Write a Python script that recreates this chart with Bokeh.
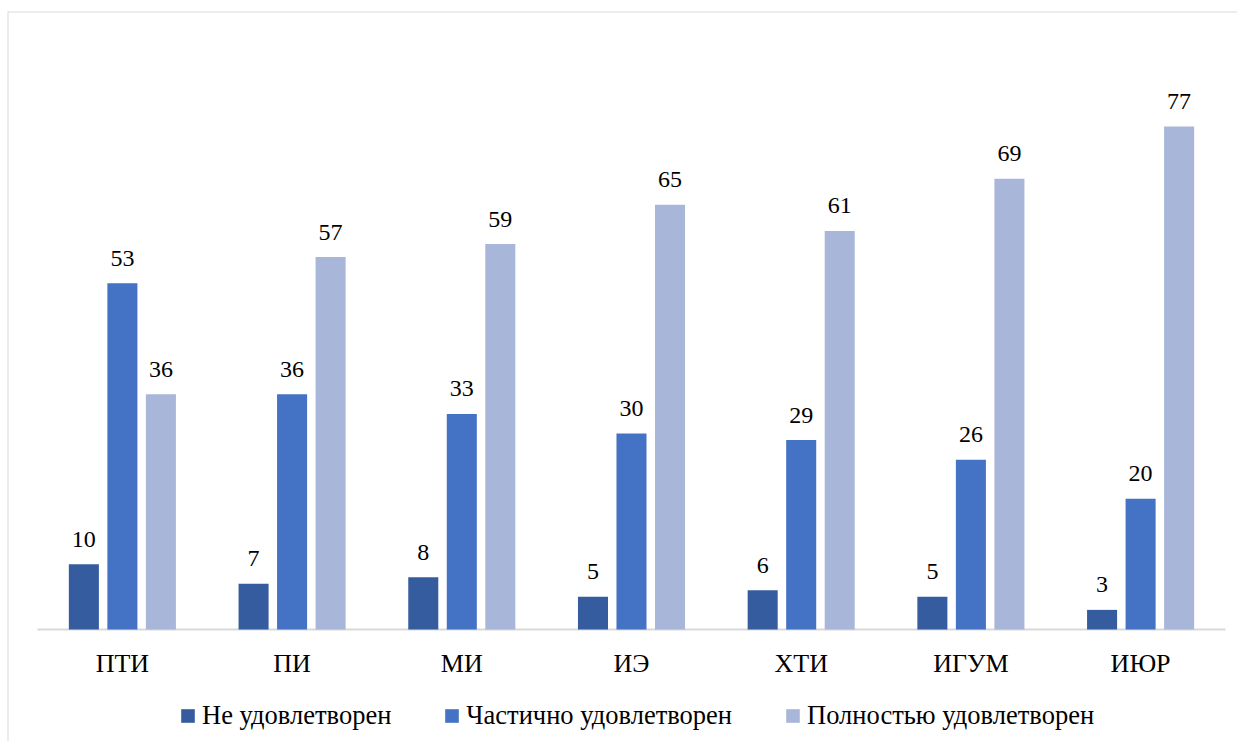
from bokeh.plotting import figure
from bokeh.models import ColumnDataSource, Range1d, Legend, LegendItem, Span
from bokeh.transform import dodge
from bokeh.embed import file_html
from bokeh.resources import INLINE
from bokeh.core.properties import value

categories = ["ПТИ", "ПИ", "МИ", "ИЭ", "ХТИ", "ИГУМ", "ИЮР"]
series_names = ["Не удовлетворен", "Частично удовлетворен", "Полностью удовлетворен"]
not_satisfied = [10, 7, 8, 5, 6, 5, 3]
partially = [53, 36, 33, 30, 29, 26, 20]
fully = [36, 57, 59, 65, 61, 69, 77]
colors = ["#355C9F", "#4472C4", "#A8B6DA"]

FONT = "Liberation Serif"
n = len(categories)

src = ColumnDataSource(dict(xi=list(range(n)), cat=categories,
                            zero=[0] * n,
                            s0=not_satisfied, s1=partially, s2=fully,
                            t0=[str(v) for v in not_satisfied],
                            t1=[str(v) for v in partially],
                            t2=[str(v) for v in fully]))

# ranges chosen so the plotting area sits like the original chart area
x_rng = Range1d(-0.677, n - 0.5 + 0.071)
y_rng = Range1d(-17.15, 94.6)

p = figure(width=1237, height=741, x_range=x_rng, y_range=y_rng,
           output_backend="svg", toolbar_location=None,
           min_border_left=7, min_border_right=0, min_border_top=11, min_border_bottom=0)
p.outline_line_color = None
p.xgrid.grid_line_color = None
p.ygrid.grid_line_color = None
p.xaxis.visible = False
p.yaxis.visible = False
p.background_fill_color = "#FFFFFF"

# chart-area border (left and top edges visible)
p.add_layout(Span(location=x_rng.start, dimension="height", line_color="#D9D9D9", line_width=2))
p.add_layout(Span(location=y_rng.end, dimension="width", line_color="#D9D9D9", line_width=2))

# category axis baseline
p.segment(x0=[-0.5], x1=[n - 0.5], y0=[0], y1=[0], line_color="#D9D9D9", line_width=2)

offsets = [-0.227, 0.0, 0.227]
renderers = []
for i, off in enumerate(offsets):
    r = p.vbar(x=dodge("xi", off), top=f"s{i}", width=0.177,
               source=src, fill_color=colors[i], line_color=None)
    renderers.append(r)
    p.text(x=dodge("xi", off), y=f"s{i}", text=f"t{i}", source=src,
           text_font=value(FONT), text_font_size="24px", text_color="#000000",
           text_align="center", text_baseline="alphabetic", y_offset=-25)

# category labels
p.text(x="xi", y="zero", text="cat", source=src,
       text_font=value(FONT), text_font_size="26px", text_color="#000000",
       text_align="center", text_baseline="alphabetic", y_offset=34)

legend = Legend(items=[LegendItem(label=series_names[i], renderers=[renderers[i]]) for i in range(3)],
                orientation="horizontal", location=(172, 10),
                label_text_font=FONT, label_text_font_size="26.5px", label_text_color="#000000",
                glyph_width=17, glyph_height=17, label_standoff=6, spacing=52,
                padding=0, margin=0, border_line_color=None, background_fill_alpha=0)
p.add_layout(legend, "center")

open("out.html", "w").write(file_html(p, INLINE))
